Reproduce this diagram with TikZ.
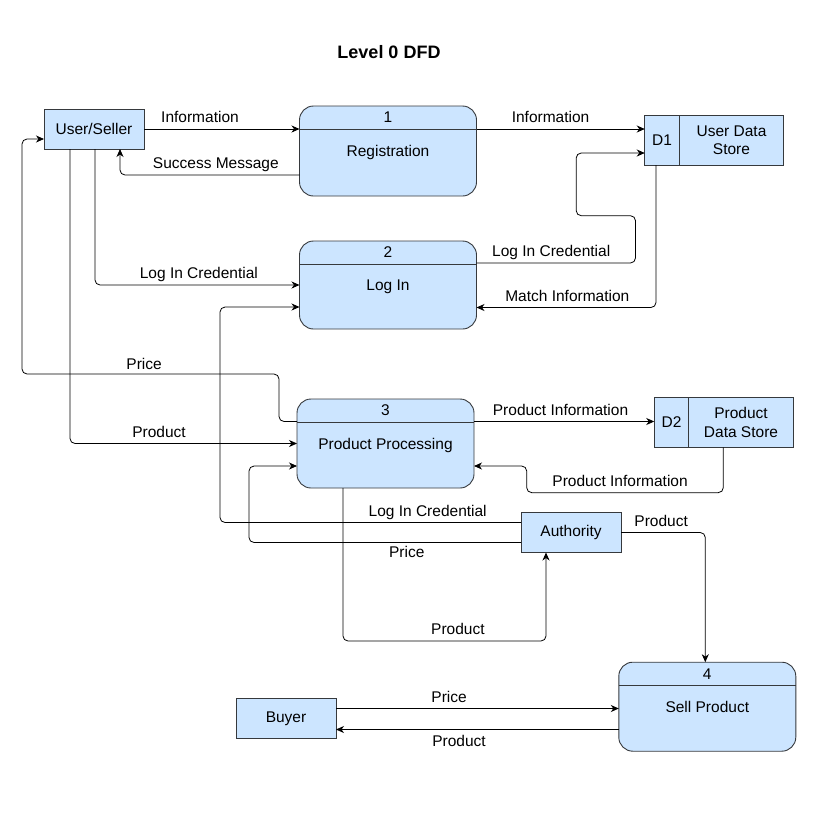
\documentclass[tikz,border=0pt]{standalone}
\usepackage{fontspec}
\setmainfont{Liberation Sans}
\usetikzlibrary{positioning, arrows.meta}
\definecolor{boxblue}{RGB}{204,229,255}
\definecolor{boxline}{RGB}{54,57,61}

\begin{document}
\begin{tikzpicture}[
    % GLOBAL CFG
    x=1pt, y=-1pt,
    font=\fontsize{15.5pt}{18.5pt}\selectfont,
    >={Stealth[length=8pt, width=7pt, inset=2.5pt]},
    % Styles
    entity/.style={% For external entities
        rectangle,
        draw=boxline,
        fill=boxblue,
        line width=0.9pt,
        minimum width=100pt,
        minimum height=40pt,
        inner sep=2pt,
        outer sep=0pt,
        },
    process/.style={% For the numbered processes
        rectangle,
        rounded corners=14pt,
        draw=boxline,
        fill=boxblue,
        line width=0.9pt,
        minimum width=177pt,
        minimum height=89pt,
        text depth=0pt,
        outer sep=0pt,
        },
    storeid/.style={% For the D# part of a data store
        rectangle,
        draw=boxline,
        fill=boxblue,
        line width=0.9pt,
        minimum width=34.5pt,
        minimum height=50pt,
        inner sep=1pt,
        outer sep=0pt,
        },
    store/.style={% For the name part of a data store
        rectangle,
        draw=boxline,
        fill=boxblue,
        line width=0.9pt,
        minimum width=104.5pt,
        minimum height=50pt,
        inner sep=1pt,
        outer sep=0pt,
        align=center,
        },
    divider/.style={% Line under the process number
        draw=boxline,
        line width=0.9pt,
        },
    flow/.style={% Data flows with rounded corners
        ->,
        rounded corners=5pt,
        line width=0.8pt,
        },
    flowlabel/.style={% Text on the data flows
        inner sep=3pt,
        text height=11pt,
        text depth=3pt,
        },
    ]

    \useasboundingbox (0,0) rectangle (819,828);

    % Title
    \node[font=\fontsize{18pt}{21pt}\selectfont\bfseries] (title) at (389,52) {Level 0 DFD};

    % External entities
    \node[entity] (user) at (94,129) {User/Seller};
    \node[entity] (auth) at (571,532.5) {Authority};
    \node[entity] (buyer) at (286,718.5) {Buyer};

    % Processes
    \node[process, minimum height=90pt] (reg) at (388,151) {Registration};
    \node[process, minimum height=88pt] (login) at (388,285) {Log In};
    \node[process] (pp) at (385.5,443.5) {Product Processing};
    \node[process] (sell) at (707.3,706.7) {Sell Product};

    % Process numbers
    \draw[divider] ([yshift=-23pt]reg.north west) -- ([yshift=-23pt]reg.north east);
    \node (regnum) at ([yshift=-11.5pt]reg.north) {1};
    \draw[divider] ([yshift=-23pt]login.north west) -- ([yshift=-23pt]login.north east);
    \node (loginnum) at ([yshift=-11.5pt]login.north) {2};
    \draw[divider] ([yshift=-23pt]pp.north west) -- ([yshift=-23pt]pp.north east);
    \node (ppnum) at ([yshift=-11.5pt]pp.north) {3};
    \draw[divider] ([yshift=-23pt]sell.north west) -- ([yshift=-23pt]sell.north east);
    \node (sellnum) at ([yshift=-11.5pt]sell.north) {4};

    % Data stores
    \node[storeid] (d1id) at (662,140) {D1};
    \node[store, right=0pt of d1id] (d1) {User Data\\Store};
    \node[storeid, minimum height=49.5pt] (d2id) at (671.5,422.5) {D2};
    \node[store, minimum height=49.5pt, right=0pt of d2id] (d2) {Product\\Data Store};

    % Registration flows
    \draw[flow] (user.east) -- node[flowlabel, above, pos=0.36] {Information} (user.east -| reg.west);
    \draw[flow] ([yshift=22pt]reg.east) -- node[flowlabel, above, pos=0.44] {Information} ([yshift=22pt]reg.east -| d1id.west);
    \draw[flow] ([yshift=-24pt]reg.west) -| node[flowlabel, above, pos=0.233] {Success Message} ([xshift=26pt]user.south);

    % Log in flows
    \draw[flow] ([xshift=1pt]user.south) |- node[flowlabel, above, pos=0.754] {Log In Credential} (login.west);
    \draw[flow] ([yshift=22pt]login.east) -- node[flowlabel, above, pos=0.47] {Log In Credential} ++(159,0)
        -- ++(0,-47.3) -- ++(-59.3,0) |- ([yshift=-13pt]d1id.west);
    \draw[flow] ([xshift=-6pt]d1id.south) |- node[flowlabel, above, pos=0.747] {Match Information} ([yshift=-22.5pt]login.east);
    \draw[flow] ([yshift=10pt]auth.west) -- node[flowlabel, above, pos=0.31] {Log In Credential} ++(-301,0)
        |- ([yshift=-22pt]login.west);

    % Product flows
    \draw[flow] ([yshift=22pt]pp.west) -- ++(-18,0) -- ++(0,-47.5)
        -- node[flowlabel, above=-2pt, pos=0.525] {Price} ++(-257,0) |- ([yshift=-10pt]user.west);
    \draw[flow] ([xshift=-24pt]user.south) |- node[flowlabel, above, pos=0.696] {Product} (pp.west);
    \draw[flow] ([yshift=22pt]pp.east) -- node[flowlabel, above, pos=0.48] {Product Information} ([yshift=22pt]pp.east -| d2id.west);
    \draw[flow] ([xshift=-17.7pt]d2.south) -- ++(0,45.4)
        -- node[flowlabel, above, pos=0.525] {Product Information} ++(-196.6,0) |- ([yshift=-22.5pt]pp.east);
    \draw[flow] ([yshift=-10pt]auth.west) -- node[flowlabel, below=1pt, pos=0.42] {Price} ++(-272,0)
        |- ([yshift=-22.5pt]pp.west);
    \draw[flow] ([xshift=-42.5pt]pp.south) -- ++(0,153) -| node[flowlabel, above, pos=0.283] {Product} ([xshift=-25pt]auth.south);

    % Selling flows
    \draw[flow] (auth.east) -| node[flowlabel, above, pos=0.238] {Product} ([xshift=-2pt]sell.north);
    \draw[flow] ([yshift=10pt]buyer.east) -- node[flowlabel, above, pos=0.4] {Price} ([yshift=10pt]buyer.east -| sell.west);
    \draw[flow] ([yshift=-11pt]buyer.east -| sell.west) -- node[flowlabel, below=3pt, pos=0.565] {Product} ([yshift=-11pt]buyer.east);

\end{tikzpicture}
\end{document}
